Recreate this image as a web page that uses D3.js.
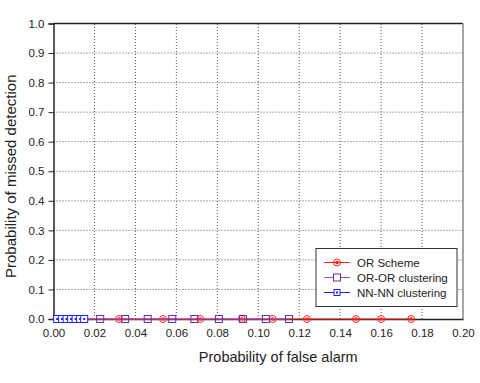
<!DOCTYPE html>
<html>
<head>
<meta charset="utf-8">
<script src="https://cdn.jsdelivr.net/npm/d3@7"></script>
<style>
  body { margin: 0; background: #fff; }
  text { font-family: "Liberation Sans", Arial, sans-serif; fill: #222; }
</style>
</head>
<body>
<div id="chart"></div>
<script>
// values (probability of missed detection is 0 everywhere)
const orSchemeX = [0.0085, 0.032, 0.0535, 0.0717, 0.092, 0.107, 0.1238, 0.1477, 0.160, 0.1747];
const orSchemeY = [0, 0, 0, 0, 0, 0, 0, 0, 0, 0];
const orOrX = [0.011, 0.0228, 0.035, 0.046, 0.058, 0.0688, 0.0808, 0.0925, 0.1037, 0.115];
const orOrY = [0, 0, 0, 0, 0, 0, 0, 0, 0, 0];
const nnNnX = [0.0018, 0.0042, 0.0064, 0.0086, 0.0108, 0.013, 0.015];
const nnNnY = [0, 0, 0, 0, 0, 0, 0];
const xTicks = [0, 0.02, 0.04, 0.06, 0.08, 0.10, 0.12, 0.14, 0.16, 0.18, 0.20];
const yTicks = [0, 0.1, 0.2, 0.3, 0.4, 0.5, 0.6, 0.7, 0.8, 0.9, 1.0];
const seriesNames = ["OR Scheme", "OR-OR clustering", "NN-NN clustering"];

const width = 480, height = 383;
const marginLeft = 53.5, marginRight = 17, marginTop = 23.5, marginBottom = 64;

const svg = d3.select("#chart").append("svg")
    .attr("width", width)
    .attr("height", height);

const x = d3.scaleLinear().domain([0, 0.2]).range([marginLeft, width - marginRight]);
const y = d3.scaleLinear().domain([0, 1]).range([height - marginBottom, marginTop]);

// dotted grid
svg.append("g")
    .selectAll("line")
    .data(xTicks.slice(1, -1))
    .join("line")
    .attr("x1", d => x(d)).attr("x2", d => x(d))
    .attr("y1", y(0)).attr("y2", y(1))
    .attr("stroke", "#555").attr("stroke-width", 1)
    .attr("stroke-dasharray", "1,2");
svg.append("g")
    .selectAll("line")
    .data(yTicks.slice(1, -1))
    .join("line")
    .attr("x1", x(0)).attr("x2", x(0.2))
    .attr("y1", d => y(d)).attr("y2", d => y(d))
    .attr("stroke", "#555").attr("stroke-width", 1)
    .attr("stroke-dasharray", "1,2");

// frame: top dark, right grey
svg.append("line")
    .attr("x1", x(0)).attr("x2", x(0.2)).attr("y1", y(1)).attr("y2", y(1))
    .attr("stroke", "#222").attr("stroke-width", 1.5);
svg.append("line")
    .attr("x1", x(0.2)).attr("x2", x(0.2)).attr("y1", y(1)).attr("y2", y(0))
    .attr("stroke", "#888").attr("stroke-width", 1.5);

// left axis
const gy = svg.append("g")
    .attr("transform", `translate(${x(0)},0)`)
    .call(d3.axisLeft(y).tickValues(yTicks).tickFormat(d3.format(".1f")).tickSize(5).tickPadding(4));
gy.select(".domain").attr("stroke", "#222").attr("stroke-width", 1.5);
gy.selectAll(".tick line").attr("stroke", "#222");
gy.selectAll("text").attr("font-size", 11.5).attr("fill", "#222");

// bottom axis
const gx = svg.append("g")
    .attr("transform", `translate(0,${y(0)})`)
    .call(d3.axisBottom(x).tickValues(xTicks).tickFormat(d3.format(".2f")).tickSize(0).tickPadding(10));
gx.select(".domain").attr("stroke", "#222").attr("stroke-width", 1.5);
gx.selectAll("text").attr("font-size", 11.5).attr("fill", "#222");

// axis titles
svg.append("text")
    .attr("x", (x(0) + x(0.2)) / 2 + 20)
    .attr("y", 362)
    .attr("text-anchor", "middle")
    .attr("font-size", 14.5)
    .text("Probability of false alarm");
svg.append("text")
    .attr("transform", `translate(16,${(y(0) + y(1)) / 2 + 5}) rotate(-90)`)
    .attr("text-anchor", "middle")
    .attr("font-size", 15)
    .text("Probability of missed detection");

const line = d3.line().x(d => x(d[0])).y(d => y(d[1]));

// OR scheme (red circles)
const redPts = d3.zip(orSchemeX, orSchemeY);
svg.append("path").datum(redPts).attr("d", line)
    .attr("fill", "none").attr("stroke", "#ff2020").attr("stroke-width", 1);
const red = svg.append("g").selectAll("g").data(redPts).join("g")
    .attr("transform", d => `translate(${x(d[0])},${y(d[1])})`);
red.append("circle").attr("r", 3.5).attr("fill", "none").attr("stroke", "#ff2020");
red.append("circle").attr("r", 1.8).attr("fill", "#ff2020");

// OR-OR clustering (purple squares)
const purplePts = d3.zip(orOrX, orOrY);
svg.append("path").datum(purplePts).attr("d", line)
    .attr("fill", "none").attr("stroke", "#a050c8").attr("stroke-width", 1);
svg.append("g").selectAll("rect").data(purplePts).join("rect")
    .attr("x", d => x(d[0]) - 3.5).attr("y", d => y(d[1]) - 3.5)
    .attr("width", 7).attr("height", 7)
    .attr("fill", "none").attr("stroke", "#6a2aa8");

// NN-NN clustering (blue squares with dot)
const bluePts = d3.zip(nnNnX, nnNnY);
svg.append("path").datum(bluePts).attr("d", line)
    .attr("fill", "none").attr("stroke", "#2020ff").attr("stroke-width", 1);
const blue = svg.append("g").selectAll("g").data(bluePts).join("g")
    .attr("transform", d => `translate(${x(d[0])},${y(d[1])})`);
blue.append("rect").attr("x", -3.5).attr("y", -3.5).attr("width", 7).attr("height", 7)
    .attr("fill", "#fff").attr("stroke", "#2020ff");
blue.append("rect").attr("x", -1).attr("y", -1).attr("width", 2).attr("height", 2)
    .attr("fill", "#2020ff");

// legend
const legend = svg.append("g").attr("transform", "translate(316,248.5)");
legend.append("rect").attr("width", 141).attr("height", 58)
    .attr("fill", "#fff").attr("stroke", "#333").attr("stroke-width", 1);
const colors = ["#ff2020", "#a050c8", "#2020ff"];
const items = legend.selectAll("g").data(seriesNames).join("g")
    .attr("transform", (d, i) => `translate(0,${14 + i * 15})`);
items.append("line").attr("x1", 8).attr("x2", 34)
    .attr("stroke", (d, i) => colors[i]);
items.filter((d, i) => i === 0).append("circle").attr("cx", 21).attr("r", 3.5)
    .attr("fill", "none").attr("stroke", "#ff2020");
items.filter((d, i) => i === 0).append("circle").attr("cx", 21).attr("r", 1.8)
    .attr("fill", "#ff2020");
items.filter((d, i) => i === 1).append("rect").attr("x", 17.5).attr("y", -3.5)
    .attr("width", 7).attr("height", 7).attr("fill", "#fff").attr("stroke", "#6a2aa8");
items.filter((d, i) => i === 2).append("rect").attr("x", 18).attr("y", -3)
    .attr("width", 6).attr("height", 6).attr("fill", "#fff").attr("stroke", "#2020ff");
items.filter((d, i) => i === 2).append("rect").attr("x", 20).attr("y", -1)
    .attr("width", 2).attr("height", 2).attr("fill", "#2020ff");
items.append("text").attr("x", 41).attr("dy", "0.35em")
    .attr("font-size", 11.5).text(d => d);
</script>
</body>
</html>
